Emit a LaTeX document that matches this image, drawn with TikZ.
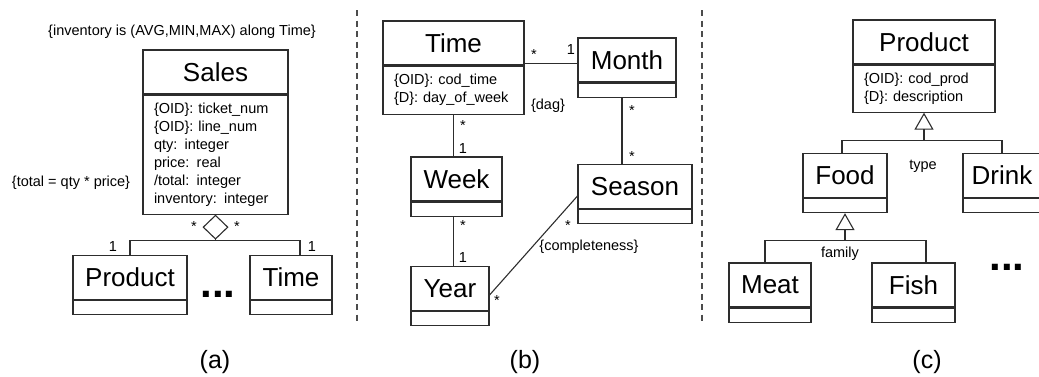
\documentclass[tikz,border=0pt]{standalone}
\usepackage{fontspec}
\setmainfont{Liberation Sans}
\usepackage{tikz}
\usetikzlibrary{positioning, arrows.meta}
\definecolor{umlline}{RGB}{45, 45, 45}

\begin{document}
\begin{tikzpicture}[x=1pt, y=-1pt, line width=1.1pt, umlline,
  cls/.style={draw=umlline, text=black, minimum height=44pt, inner sep=0pt, text depth=0pt,
    font=\fontsize{26}{30}\selectfont},
  comp/.style={draw=umlline, text=black, below=0pt of #1, minimum height=14pt, inner xsep=11pt,
    inner ysep=0pt, align=left, font=\fontsize{14.5}{18}\selectfont},
  mult/.style={text=black, inner sep=0pt, font=\fontsize{14.5}{17}\selectfont},
  caption/.style={text=black, inner sep=0pt, font=\fontsize{25}{30}\selectfont},
  more/.style={text=black, inner sep=0pt, font=\bfseries\fontsize{42}{42}\selectfont},
  sep/.style={line width=1.6pt, dash pattern=on 6pt off 4.5pt, draw=black!70},
  agg/.style={-{Diamond[open, length=25pt, width=26pt]}},
  gen/.style={-{Triangle[open, length=17pt, width=19pt]}}]
  \useasboundingbox (0,0) rectangle (1039,376);

  % (a) fact class with its dimensions
  \node[mult] (inv) at (182,32) {\{inventory is (AVG,MIN,MAX) along Time\}};
  \node[cls, minimum width=145pt] (salesH) at (215.5,72) {Sales};
  \node[comp=salesH, text width=123pt, minimum height=119pt] (salesA)
    {\{OID\}: ticket\_num\\\{OID\}: line\_num\\qty: integer\\price: real\\/total: integer\\inventory: integer};
  \node[mult] (tot) at (71,183) {\{total = qty * price\}};

  \node[cls, minimum width=114pt] (prodH) at (130,277.5) {Product};
  \node[comp=prodH, text width=92pt] (prodA) {};
  \node[cls, minimum width=82pt] (timeH) at (291,277.5) {Time};
  \node[comp=timeH, text width=60pt] (timeA) {};
  \node[more] (moreA) at (218,294) {...};

  \coordinate[below=26pt of salesA.south] (aggJ);
  \draw[agg] (aggJ) -- (salesA.south);
  \draw (prodH.north) |- (aggJ) -| ([xshift=9pt]timeH.north);
  \node[mult] (ma1) at (113,247) {1};
  \node[mult] (ma2) at (194,227) {*};
  \node[mult] (ma3) at (237,227) {*};
  \node[mult] (ma4) at (312,247) {1};
  \node[caption] (capA) at (215,362) {(a)};

  \draw[sep] (357,10) -- (357,323);

  % (b) time hierarchy
  \node[cls, minimum width=141pt] (timeBH) at (453.5,43) {Time};
  \node[comp=timeBH, text width=119pt, minimum height=48pt] (timeBA)
    {\{OID\}: cod\_time\\\{D\}: day\_of\_week};
  \node[cls, minimum width=98pt] (monthH) at (627,60) {Month};
  \node[comp=monthH, text width=76pt] (monthA) {};
  \node[cls, minimum width=91pt] (weekH) at (456.5,179) {Week};
  \node[comp=weekH, text width=69pt] (weekA) {};
  \node[cls, minimum width=114pt] (seasonH) at (635,186.5) {Season};
  \node[comp=seasonH, text width=92pt] (seasonA) {};
  \node[cls, minimum width=78pt] (yearH) at (450,288.5) {Year};
  \node[comp=yearH, text width=56pt] (yearA) {};

  \coordinate (tmJ) at ([yshift=2pt]timeBH.south east);
  \draw (tmJ) -- (tmJ -| monthH.west);
  \draw (timeBA.south) -- (timeBA.south |- weekH.north);
  \draw (timeBA.south |- weekA.south) -- (timeBA.south |- yearH.north);
  \coordinate (msJ) at ([xshift=-5pt]monthA.south);
  \draw (msJ) -- (msJ |- seasonH.north);
  \draw ([yshift=-6.5pt]yearH.east) -- ([yshift=-9.5pt]seasonH.west);

  \node[mult] (mb1) at (534,55) {*};
  \node[mult] (mb2) at (571,50) {1};
  \node[mult] (dag) at (548,106) {\{dag\}};
  \node[mult] (mb3) at (463,126) {*};
  \node[mult] (mb4) at (463,149) {1};
  \node[mult] (mb5) at (632,111) {*};
  \node[mult] (mb6) at (632,157) {*};
  \node[mult] (mb7) at (463,226) {*};
  \node[mult] (mb8) at (463,258) {1};
  \node[mult] (mb9) at (568,226) {*};
  \node[mult] (mb10) at (497,301) {*};
  \node[mult] (compl) at (589,247) {\{completeness\}};
  \node[caption] (capB) at (525,362) {(b)};

  \draw[sep] (702,10) -- (702,323);

  % (c) product generalization
  \node[cls, minimum width=142pt] (prodCH) at (924,42) {Product};
  \node[comp=prodCH, text width=120pt, minimum height=47pt] (prodCA)
    {\{OID\}: cod\_prod\\\{D\}: description};
  \node[cls, minimum width=84pt] (foodH) at (845,175.5) {Food};
  \node[comp=foodH, text width=62pt] (foodA) {};
  \node[cls, minimum width=78pt] (drinkH) at (1002,175.5) {Drink};
  \node[comp=drinkH, text width=56pt] (drinkA) {};
  \node[cls, minimum width=82pt] (meatH) at (770,285) {Meat};
  \node[comp=meatH, text width=60pt] (meatA) {};
  \node[cls, minimum width=83pt] (fishH) at (913.5,285) {Fish};
  \node[comp=fishH, text width=61pt] (fishA) {};
  \node[more] (moreC) at (1007,267) {...};

  \coordinate[below=28pt of prodCA.south] (gP);
  \draw[gen] (gP) -- (prodCA.south);
  \draw ([xshift=-3pt]foodH.north) |- (gP) -| (drinkH.north);
  \coordinate[below=27pt of foodA.south] (gF);
  \draw[gen] (gF) -- (foodA.south);
  \draw ([xshift=-5pt]meatH.north) |- (gF) -| ([xshift=12.5pt]fishH.north);

  \node[mult] (gType) at (923,166) {type};
  \node[mult] (gFam) at (840,254) {family};
  \node[caption] (capC) at (927,362) {(c)};
\end{tikzpicture}
\end{document}
